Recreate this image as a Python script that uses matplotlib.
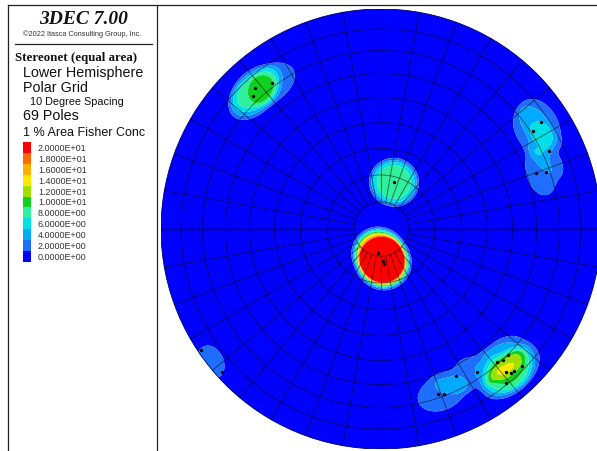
import numpy as np
import matplotlib
matplotlib.use("Agg")
import matplotlib.pyplot as plt
from matplotlib.patches import Circle, Rectangle
from matplotlib.lines import Line2D

# Joint poles: trend / plunge (degrees) and number of joints sharing that orientation
pole_trend = [187.1, 176.4, 174.5, 15.5, 318.2, 323.3, 316.1, 56.2, 57.2, 65.1, 70.1, 71.0,
              160.9, 159.1, 153.0, 146.1, 138.9, 137.0, 134.8, 138.8, 137.9, 136.9, 134.2, 140.9,
              236.0, 228.0]
pole_plunge = [81.1, 78.2, 77.0, 72.0, 15.1, 18.3, 17.2, 13.6, 18.9, 16.9, 26.0, 21.7,
               21.7, 20.8, 25.9, 22.8, 20.9, 19.7, 19.8, 14.8, 12.9, 12.6, 11.6, 10.8,
               1.5, 3.0]
pole_count = [11, 12, 9, 6, 3, 2, 3, 2, 2, 1, 1, 1,
              1, 1, 1, 1, 1, 1, 1, 2, 2, 1, 1, 1,
              1, 1]

# Contour legend
contour_levels = [0, 2, 4, 6, 8, 10, 12, 14, 16, 18, 20]
contour_labels = ["0.0000E+00", "2.0000E+00", "4.0000E+00", "6.0000E+00", "8.0000E+00",
                  "1.0000E+01", "1.2000E+01", "1.4000E+01", "1.6000E+01", "1.8000E+01",
                  "2.0000E+01"]
contour_colors = ["#0000ff", "#1e6eff", "#00aaff", "#00e0e6", "#30f0a0", "#10d020",
                  "#a0e000", "#ffe800", "#ffb000", "#ff6a00", "#ff0000"]

grid_spacing = 10          # degrees
area_fraction = 0.01       # 1 % area counting cone

W, H = 597, 452
fig = plt.figure(figsize=(W / 100, H / 100), dpi=100)


def fx(x):
    return x / W


def fy(y):
    return 1 - y / H


# ---------------- stereonet ----------------
cx, cy, rad = 381, 230, 220
ax = fig.add_axes([fx(cx - rad), fy(cy + rad), 2 * rad / W, 2 * rad / H])
ax.set_xlim(-1, 1)
ax.set_ylim(-1, 1)
ax.set_aspect("equal")
ax.axis("off")


def to_vec(trend_deg, plunge_deg):
    t = np.radians(trend_deg)
    p = np.radians(plunge_deg)
    return np.cos(p) * np.sin(t), np.cos(p) * np.cos(t), np.sin(p)


n = 600
g = np.linspace(-1.0, 1.0, n)
X, Y = np.meshgrid(g, g)
Rr = np.clip(np.hypot(X, Y), 0, 1)
theta = 2 * np.arcsin(Rr / np.sqrt(2))          # angle from the downward vertical
az = np.degrees(np.arctan2(X, Y))
gx, gy, gz = to_vec(az, 90 - np.degrees(theta))

px, py, pz = to_vec(np.array(pole_trend), np.array(pole_plunge))
counts = np.array(pole_count, dtype=float)
N = counts.sum()

alpha = np.arccos(1 - area_fraction)   # half-angle of a 1 % area cap
soft = np.radians(0.8)
dens = np.zeros_like(X)
for i in range(len(counts)):
    c = gx * px[i] + gy * py[i] + gz * pz[i]
    ang = np.arccos(np.clip(c, -1, 1))
    dens += counts[i] / (1 + np.exp((ang - alpha) / soft))
dens *= 100.0 / N

bounds = [-1] + contour_levels[1:] + [1e9]
cs = ax.contourf(X, Y, dens, levels=bounds, colors=contour_colors, antialiased=True)
clip = Circle((0, 0), 1, transform=ax.transData)
cs.set_clip_path(clip)

# polar grid: equal-area small circles and radial lines
r10 = np.sqrt(2) * np.sin(np.radians(grid_spacing) / 2)
tt = np.linspace(0, 2 * np.pi, 400)
for d in range(grid_spacing, 90, grid_spacing):
    r = np.sqrt(2) * np.sin(np.radians(d) / 2)
    ax.plot(r * np.cos(tt), r * np.sin(tt), color="black", lw=0.7, alpha=0.5)
for a in range(0, 360, grid_spacing):
    ar = np.radians(a)
    rr = np.array([r10, 1.0])
    if a in (90, 270):
        ax.plot(rr * np.sin(ar), rr * np.cos(ar), color="black", lw=1.0, alpha=0.9)
    else:
        ax.plot(rr * np.sin(ar), rr * np.cos(ar), color="black", lw=0.7, alpha=0.5)
ax.add_patch(Circle((0, 0), 1, fill=False, edgecolor="#000060", lw=0.6))

# pole dots
pt = np.radians(pole_trend)
pp = np.radians(pole_plunge)
pr = np.sqrt(2) * np.sin((np.pi / 2 - pp) / 2)
ax.plot(pr * np.sin(pt), pr * np.cos(pt), "o", color="black", ms=2.4, mew=0)

# ---------------- info panel ----------------
frame_kw = dict(color="#202020", lw=0.9, transform=fig.transFigure)
fig.add_artist(Line2D([fx(8), fx(8)], [fy(6), fy(452)], **frame_kw))
fig.add_artist(Line2D([fx(157), fx(157)], [fy(6), fy(452)], **frame_kw))
fig.add_artist(Line2D([fx(8), fx(597)], [fy(6), fy(6)], **frame_kw))
fig.add_artist(Line2D([fx(15), fx(152)], [fy(45), fy(45)], **frame_kw))

serif = "Liberation Serif"
sans = "Liberation Sans"
fig.text(fx(83.5), fy(19), "3DEC 7.00", family=serif, weight="bold", style="italic",
         fontsize=14, ha="center", va="center", color="#111111")
fig.text(fx(82), fy(34), "\u00a92022 Itasca Consulting Group, Inc.", family=sans,
         fontsize=5.3, ha="center", va="center", color="#333333")
fig.text(fx(15), fy(58), "Stereonet (equal area)", family=serif, weight="bold",
         fontsize=9.3, ha="left", va="center", color="#111111")
fig.text(fx(23), fy(73), "Lower Hemisphere", family=sans, fontsize=10.3,
         ha="left", va="center", color="#111111")
fig.text(fx(23), fy(88), "Polar Grid", family=sans, fontsize=10.3,
         ha="left", va="center", color="#111111")
fig.text(fx(30), fy(102), "10 Degree Spacing", family=sans, fontsize=7.8,
         ha="left", va="center", color="#111111")
fig.text(fx(23), fy(116), "69 Poles", family=sans, fontsize=10.3,
         ha="left", va="center", color="#111111")
fig.text(fx(23), fy(133), "1 % Area Fisher Conc", family=sans, fontsize=9.0,
         ha="left", va="center", color="#111111")

row_h = 10.9
top = 143
for k in range(len(contour_levels)):
    j = len(contour_levels) - 1 - k
    y0 = top + k * row_h
    fig.add_artist(Rectangle((fx(23), fy(y0 + row_h)), 8 / W, row_h / H,
                             transform=fig.transFigure, facecolor=contour_colors[j],
                             edgecolor="none"))
    fig.text(fx(38), fy(y0 + row_h / 2), contour_labels[j], family=sans, fontsize=6.5,
             ha="left", va="center", color="#333333")

fig.savefig("out.png", dpi=100)
